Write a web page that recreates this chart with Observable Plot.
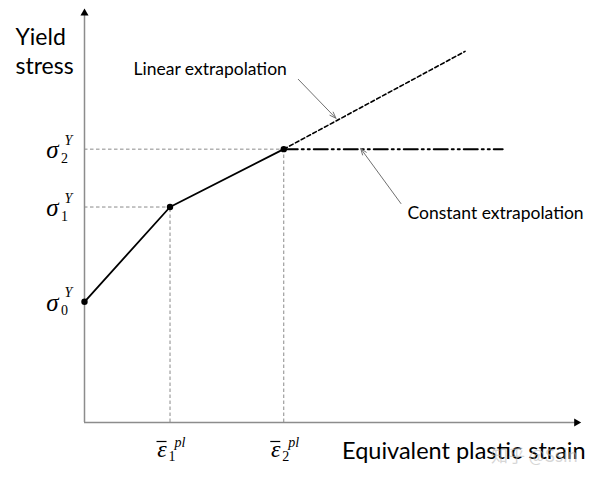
<!DOCTYPE html>
<html><head><meta charset="utf-8">
<script src="https://cdn.jsdelivr.net/npm/d3@7"></script>
<script src="https://cdn.jsdelivr.net/npm/@observablehq/plot@0.6"></script>
<style>body{margin:0;background:#fff}</style>
</head><body><div id="chart"></div>
<script>
// data (arbitrary units: plastic strain on x, yield stress on y)
const curveStrain = [0, 1.0, 2.33];
const curveStress = [1.21, 2.16, 2.74];
const stressSub = ["0", "1", "2"];
const strainSub = ["", "1", "2"];
const linearStrain = [2.33, 4.45];
const linearStress = [2.74, 3.72];
const constStrain = [2.33, 4.89];
const constStress = [2.74, 2.74];
const axisMax = {x: 5.8, y: 4.15};
const noteText = ["Linear extrapolation", "Constant extrapolation"];
const noteX = [0.573, 3.777];
const noteY = [3.48, 2.035];
const arrowFromX = [2.50, 3.70];
const arrowFromY = [3.44, 2.195];
const arrowToX = [2.94, 3.23];
const arrowToY = [3.05, 2.746];
const yTitle = "Yield\nstress";
const yTitlePos = {x: -0.807, y: 3.49};
const xTitle = "Equivalent plastic strain";
const xTitlePos = {x: 5.86, y: -0.37};
const watermark = "知乎 @Ssin";
const watermarkPos = {x: 5.77, y: -0.4};

const sans = "Lato, 'Open Sans', sans-serif";
const serif = "'Liberation Serif', 'DejaVu Serif', serif";
const idx3 = [0, 1, 2];
const idx2 = [1, 2];
const pair = [0, 1];

const chart = Plot.plot({
  width: 600,
  height: 484,
  marginLeft: 84,
  marginRight: 20,
  marginTop: 8,
  marginBottom: 62,
  x: {domain: [0, axisMax.x], axis: null},
  y: {domain: [0, axisMax.y], axis: null},
  marks: [
    // guide lines
    Plot.ruleY(idx2, {y: i => curveStress[i], x1: 0, x2: i => curveStrain[i], stroke: "#8a8a8a", strokeWidth: 1, strokeDasharray: "3.5,2.5"}),
    Plot.ruleX(idx2, {x: i => curveStrain[i], y1: 0, y2: i => curveStress[i], stroke: "#8a8a8a", strokeWidth: 1, strokeDasharray: "3.5,2.5"}),
    // axes
    Plot.ruleY([0], {x1: 0, x2: axisMax.x - 0.03, stroke: "#8c8c8c", strokeWidth: 1.5}),
    Plot.ruleX([0], {y1: 0, y2: axisMax.y - 0.03, stroke: "#8c8c8c", strokeWidth: 1.5}),
    Plot.dot([0], {x: axisMax.x, y: 0, dx: -4, symbol: "triangle", r: 3, fill: "black", stroke: null, rotate: 90}),
    Plot.dot([0], {x: 0, y: axisMax.y, dy: 4.6, symbol: "triangle", r: 3, fill: "black", stroke: null}),
    // extrapolations
    Plot.line(pair, {x: i => linearStrain[i], y: i => linearStress[i], stroke: "black", strokeWidth: 1.6, strokeDasharray: "4,2.6"}),
    Plot.line(pair, {x: i => constStrain[i], y: i => constStress[i], stroke: "black", strokeWidth: 2, strokeDasharray: "14,4,2,4,2,4"}),
    // hardening curve
    Plot.line(idx3, {x: i => curveStrain[i], y: i => curveStress[i], stroke: "black", strokeWidth: 1.8}),
    Plot.dot(idx3, {x: i => curveStrain[i], y: i => curveStress[i], r: 3.2, fill: "black", stroke: null}),
    // annotation arrows
    Plot.arrow(pair, {x1: i => arrowFromX[i], y1: i => arrowFromY[i], x2: i => arrowToX[i], y2: i => arrowToY[i], stroke: "#707070", strokeWidth: 1, headLength: 10, headAngle: 40}),
    Plot.text(pair, {x: i => noteX[i], y: i => noteY[i], text: i => noteText[i], textAnchor: "start", lineAnchor: "bottom", fontSize: 17.5, fontFamily: sans, fill: "black"}),
    // stress tick labels
    Plot.text(idx3, {x: 0, y: i => curveStress[i], text: () => "σ", dx: -32, dy: 1, fontSize: 25, fontStyle: "italic", fontFamily: serif, textAnchor: "middle"}),
    Plot.text(idx3, {x: 0, y: i => curveStress[i], text: () => "Y", dx: -16, dy: -9, fontSize: 14, fontStyle: "italic", fontFamily: serif, textAnchor: "middle"}),
    Plot.text(idx3, {x: 0, y: i => curveStress[i], text: i => stressSub[i], dx: -20, dy: 9, fontSize: 14, fontFamily: serif, textAnchor: "middle"}),
    // strain tick labels (epsilon with overbar)
    Plot.text(idx2, {x: i => curveStrain[i], y: 0, text: () => "ε", dx: -8, dy: 27, fontSize: 24, fontStyle: "italic", fontFamily: serif, textAnchor: "middle"}),
    Plot.ruleY(idx2, {y: 0, x1: i => curveStrain[i] - 0.152, x2: i => curveStrain[i] - 0.035, dy: 19, stroke: "black", strokeWidth: 1.2}),
    Plot.text(idx2, {x: i => curveStrain[i], y: 0, text: () => "pl", dx: 10, dy: 20, fontSize: 14, fontStyle: "italic", fontFamily: serif, textAnchor: "middle"}),
    Plot.text(idx2, {x: i => curveStrain[i], y: 0, text: i => strainSub[i], dx: 2, dy: 34, fontSize: 14, fontFamily: serif, textAnchor: "middle"}),
    // axis titles
    Plot.text([yTitle], {x: yTitlePos.x, y: yTitlePos.y, text: d => d, textAnchor: "start", lineAnchor: "bottom", lineHeight: 1.27, fontSize: 23, fontFamily: sans, fill: "black"}),
    Plot.text([xTitle], {x: xTitlePos.x, y: xTitlePos.y, text: d => d, textAnchor: "end", lineAnchor: "bottom", fontSize: 23.5, fontFamily: sans, fill: "black"}),
    Plot.text([watermark], {x: watermarkPos.x, y: watermarkPos.y, text: d => d, textAnchor: "end", lineAnchor: "bottom", fontSize: 17, fontFamily: "'Noto Sans CJK SC', sans-serif", fill: "#bbbbbb", fillOpacity: 0.6})
  ]
});
document.getElementById("chart").appendChild(chart);
</script>
</body></html>
